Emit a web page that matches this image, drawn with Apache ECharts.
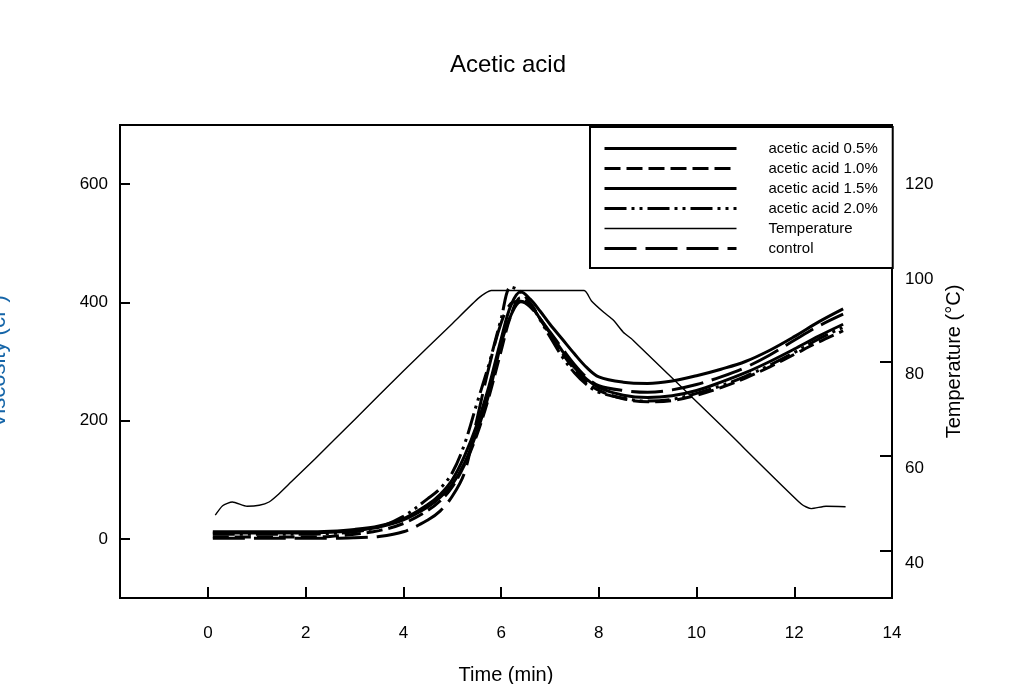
<!DOCTYPE html>
<html><head><meta charset="utf-8">
<script src="https://cdn.jsdelivr.net/npm/echarts@6/dist/echarts.min.js"></script>
<style>html,body{margin:0;padding:0;background:#fff}#c{width:1024px;height:684px}</style>
</head><body><div id="c"></div>
<script>
// time grid (min) for viscosity curves
const time = [0.1, 1, 2, 2.5, 3, 3.5, 4, 4.5, 4.75, 5, 5.25, 5.5, 5.75, 6, 6.2, 6.4, 6.6, 6.8, 7, 7.25, 7.5, 7.75, 8, 8.5, 9, 9.5, 10, 10.5, 11, 11.5, 12, 12.5, 13];
const acetic05 = [12,12,12,13,16, 22,34,58,75,100, 140,192,258,338,395, 418,405,385,363,338, 313,290,274,265,263, 267,276,287,300,319, 342,367,389];
const acetic10 = [3,3,3,4,8, 14,26,48,64,88, 125,175,240,318,378, 408,398,372,345,314, 287,265,251,237,232, 234,243,256,272,291, 312,333,352];
const acetic15 = [10,10,10,11,14, 20,32,54,70,92, 128,180,245,330,378, 401,395,372,348,318, 290,270,256,243,239, 242,251,265,281,300, 321,343,363];
const acetic20 = [8,8,8,9,12, 20,38,68,85,112, 160,228,295,372,426, 418,398,370,342,308, 281,261,248,238,233, 236,246,259,275,294, 315,338,358];
const control  = [1,1,1,1,2, 4,12,32,47,72, 112,200,290,365,398, 402,392,372,350,322, 295,273,259,251,248, 252,261,274,290,311, 336,360,380];
// temperature profile
const tempTime   = [0.15,0.3,0.5,0.8,1.05,1.25,1.45,1.7,2.2,3.0,4.0,5.0,5.55,5.8,7.7,7.85,8.1,8.3,8.5,8.7,10.5,12.15,12.35,12.65,13.05];
const tempValues = [47.5,49.5,50.3,49.4,49.6,50.3,52,54.5,59.5,67.7,78,88,93.5,95,95,92.8,90.4,88.7,86.2,84.5,66.5,49.8,48.9,49.4,49.3];
// tick labels
const xTicks = [0,2,4,6,8,10,12,14];
const yTicks = [0,200,400,600];
const tempTicks = [40,60,80,100,120];
const names = ['acetic acid 0.5%','acetic acid 1.0%','acetic acid 1.5%','acetic acid 2.0%','Temperature','control'];

const FONT = 'Liberation Sans, Arial, sans-serif';
const pairs = (xs, ys) => xs.map((x, i) => [x, ys[i]]);
function visc(name, vals, type) {
  return {
    name, type: 'line', data: pairs(time, vals), smooth: 0.35, symbol: 'none',
    lineStyle: { color: '#000', width: 3, type: type, cap: 'butt' },
    itemStyle: { color: '#000' }
  };
}
const legendData = names.map(n => ({
  name: n,
  lineStyle: { width: n === 'Temperature' ? 1.6 : 3 },
  itemStyle: { opacity: 0, color: 'rgba(0,0,0,0)', borderWidth: 0 }
}));
const chart = echarts.init(document.getElementById('c'));
chart.setOption({
  animation: false,
  backgroundColor: '#fff',
  textStyle: { fontFamily: FONT, color: '#000' },
  title: {
    text: 'Acetic acid', left: 503, top: 48, textAlign: 'center',
    textStyle: { fontFamily: FONT, fontSize: 24, fontWeight: 'normal', color: '#000' }
  },
  grid: { left: 120, right: 132, top: 125, bottom: 86, outerBoundsMode: 'none', containLabel: false,
          show: true, borderColor: '#000', borderWidth: 2, backgroundColor: 'transparent' },
  legend: {
    orient: 'vertical', left: 590, top: 127,
    data: legendData,
    itemWidth: 132, itemHeight: 14, itemGap: 5,
    padding: [14, 15, 12, 13],
    borderColor: '#000', borderWidth: 2, backgroundColor: '#fff',
    itemStyle: { opacity: 0 },
    textStyle: { fontFamily: FONT, fontSize: 15, color: '#000', padding: [0, 0, 0, 27] }
  },
  xAxis: {
    type: 'value', min: -1.8, max: 14,
    name: 'Time (min)', nameLocation: 'middle', nameGap: 67,
    nameTextStyle: { fontFamily: FONT, fontSize: 20, color: '#000' },
    axisLine: { onZero: false, lineStyle: { color: '#000', width: 2 } },
    axisTick: { inside: true, length: 11, customValues: xTicks, lineStyle: { color: '#000', width: 2 } },
    axisLabel: { customValues: xTicks, margin: 27, fontSize: 17, color: '#000', fontFamily: FONT },
    splitLine: { show: false }
  },
  yAxis: [{
    type: 'value', min: -100, max: 700, position: 'left',
    name: 'Viscosity (cP)', nameLocation: 'middle', nameGap: 110,
    nameTextStyle: { fontFamily: FONT, fontSize: 22, color: '#1565a8' },
    axisLine: { show: true, onZero: false, lineStyle: { color: '#000', width: 2 } },
    axisTick: { show: true, inside: true, length: 10, customValues: yTicks, lineStyle: { color: '#000', width: 2 } },
    axisLabel: { customValues: yTicks, margin: 12, fontSize: 17, color: '#000', fontFamily: FONT },
    splitLine: { show: false }
  }, {
    type: 'value', min: 30, max: 130, position: 'right',
    name: 'Temperature (°C)', nameLocation: 'middle', nameGap: 37,
    nameTextStyle: { fontFamily: FONT, fontSize: 20, color: '#000' },
    axisLine: { show: true, onZero: false, lineStyle: { color: '#000', width: 2 } },
    axisTick: { show: true, inside: true, length: 12, customValues: tempTicks, lineStyle: { color: '#000', width: 2 } },
    axisLabel: { customValues: tempTicks, margin: 13, fontSize: 17, color: '#000', fontFamily: FONT, verticalAlign: 'top', padding: [4, 0, 0, 0] },
    splitLine: { show: false }
  }],
  series: [
    visc(names[0], acetic05, 'solid'),
    visc(names[1], acetic10, [16, 6]),
    visc(names[2], acetic15, 'solid'),
    visc(names[3], acetic20, [22, 5, 3, 5, 3, 5]),
    {
      name: names[4], type: 'line', yAxisIndex: 1, data: pairs(tempTime, tempValues),
      smooth: 0.2, symbol: 'none',
      lineStyle: { color: '#000', width: 1.4 }, itemStyle: { color: '#000' }
    },
    visc(names[5], control, [32, 9])
  ]
});
</script></body></html>
